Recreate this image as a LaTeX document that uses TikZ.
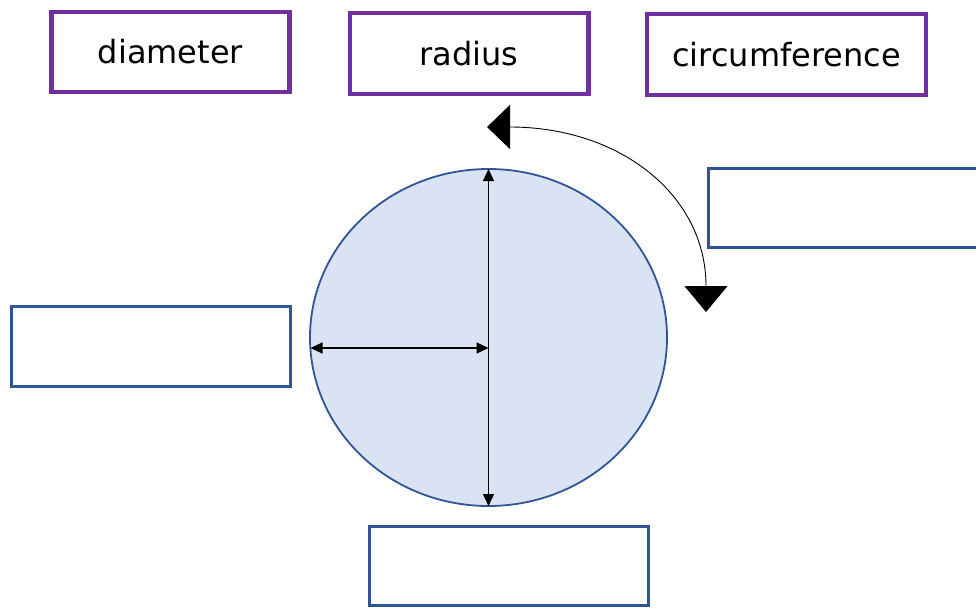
\documentclass[tikz,border=0pt]{standalone}
\usepackage{fontspec}
\setmainfont{DejaVu Sans}
\usetikzlibrary{arrows.meta,shapes.geometric}
\definecolor{purpleline}{HTML}{7030A0}
\definecolor{blueline}{HTML}{2F5597}
\definecolor{circfill}{HTML}{DAE3F3}
\tikzset{
  wordbox/.style={draw=purpleline, line width=4.5pt, fill=white, rectangle, inner sep=0pt,
     font=\fontsize{32}{38}\selectfont, text=black},
  emptybox/.style={draw=blueline, line width=3pt, fill=white, rectangle, inner sep=0pt},
  dimarrow/.style={line width=1.2pt, {Triangle[length=12pt,width=11pt]}-{Triangle[length=12pt,width=11pt]}},
  turnarrow/.style={line width=0.9pt, {Triangle[length=23pt,width=44pt]}-{Triangle[length=26pt,width=43pt]}}
}
\begin{document}
\begin{tikzpicture}[x=1pt,y=-1pt]
\useasboundingbox (0,0) rectangle (976,608);
% word boxes
\node[wordbox, minimum width=238pt, minimum height=80pt] (diam) at (170.5,52) {diameter};
\node[wordbox, minimum width=238.5pt, minimum height=81pt] (rad) at (469,53.5) {radius};
\node[wordbox, minimum width=279pt, minimum height=81pt] (circ) at (786.5,54.5) {circumference};
% empty boxes
\node[emptybox, minimum width=282pt, minimum height=79pt] (rbox) at (849,208) {};
\node[emptybox, minimum width=279pt, minimum height=80pt] (lbox) at (151,346.5) {};
\node[emptybox, minimum width=278.5pt, minimum height=79pt] (bbox) at (508.75,566) {};
% circle
\node[ellipse, draw=blueline, line width=1.8pt, fill=circfill, minimum width=357pt, minimum height=337pt, inner sep=0pt] (circle) at (488.5,337.5) {};
\coordinate (vt) at (488.5,169);
\coordinate (vb) at (488.5,506);
\coordinate (hl) at (310.5,348);
\coordinate (hr) at (488.5,348);
\draw[dimarrow] (vt) -- (vb);
\draw[dimarrow] (hl) -- (hr);
% curved arrow
\coordinate (ca) at (487,127);
\coordinate (cb) at (706,312);
\draw[turnarrow] (ca) .. controls (620,127) and (706,195) .. (cb);
\end{tikzpicture}
\end{document}
